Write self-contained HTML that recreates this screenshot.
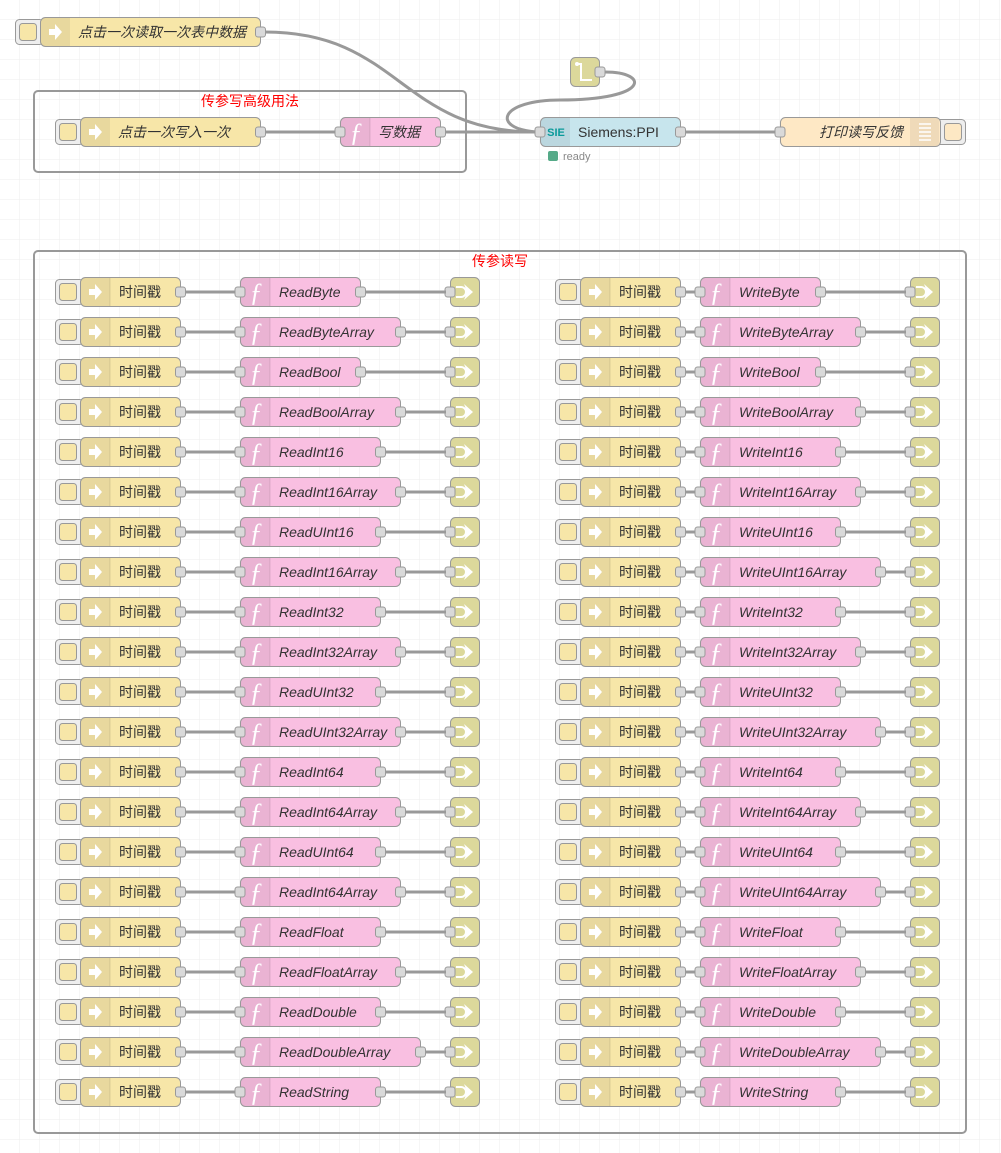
<!DOCTYPE html>
<html><head><meta charset="utf-8"><style>
html,body{margin:0;padding:0;background:#fff}
svg{display:block}
text{font-family:"Liberation Sans","Noto Sans CJK SC",sans-serif;font-size:14px;fill:#333}
.i{font-style:italic}
.c{text-anchor:middle}
.w{stroke:#999;stroke-width:3;fill:none}
.p{fill:#d9d9d9;stroke:#999;stroke-width:1}
.fb{fill:#f9bfe1;stroke:#999;stroke-width:1}
</style></head><body>
<svg width="1001" height="1153" viewBox="0 0 1001 1153" xmlns="http://www.w3.org/2000/svg">
<defs>
<pattern id="grid" width="20" height="20" patternUnits="userSpaceOnUse">
<path d="M20 0V20M0 20H20" stroke="#eee" stroke-width="1" fill="none"/>
</pattern>
<g id="arr"><path d="M-6,-3 H0 V-8 L7,0 L0,8 V3 H-6 Z" fill="#fff"/></g>
<g id="inj">
<rect x="55.5" y="2.5" width="28" height="25" rx="4" fill="#eee" stroke="#999"/>
<rect x="59.5" y="6.5" width="17" height="17" rx="3" fill="#f7e6a8" stroke="#999"/>
<rect x="80.5" y="0.5" width="100" height="29" rx="5" fill="#f7e6a8" stroke="#999"/>
<path d="M110,1 H85 a4,4 0 0 0 -4,4 V25 a4,4 0 0 0 4,4 H110 Z" fill="rgba(0,0,0,0.06)"/>
<line x1="110" y1="1" x2="110" y2="29" stroke="rgba(0,0,0,0.1)"/>
<use href="#arr" x="95" y="15"/>
<rect x="175.5" y="10" width="10" height="10" rx="2.5" class="p"/>
<text x="140" y="20" class="c">时间戳</text>
</g>
<g id="lnk">
<rect x="450.5" y="0.5" width="29" height="29" rx="5" fill="#dcd89b" stroke="#999"/>
<path d="M456,10 H461 a5,5 0 0 1 0,10 H456" stroke="#fff" stroke-width="2" fill="none"/>
<path d="M464,7 L473,15 L464,23 L467,15 Z" fill="#fff"/>
<rect x="445" y="10" width="10" height="10" rx="2.5" class="p"/>
</g>
<g id="fic">
<path d="M270,1 H245 a4,4 0 0 0 -4,4 V25 a4,4 0 0 0 4,4 H270 Z" fill="rgba(0,0,0,0.06)"/>
<line x1="270" y1="1" x2="270" y2="29" stroke="rgba(0,0,0,0.1)"/>
<text x="256" y="24" class="c" style="fill:#fff;font-size:26px;font-style:italic;font-family:'Liberation Serif',serif">ƒ</text>
<rect x="235" y="10" width="10" height="10" rx="2.5" class="p"/>
</g>
<g id="base">
<line x1="185" y1="15" x2="236" y2="15" class="w"/>
<line x1="685" y1="15" x2="696" y2="15" class="w"/>
<use href="#inj"/><use href="#inj" x="500"/>
<use href="#lnk"/><use href="#lnk" x="460"/>
</g>
</defs>
<rect width="1001" height="1153" fill="url(#grid)"/>

<rect x="34" y="91" width="432" height="81" rx="4" fill="none" stroke="#999" stroke-width="2"/>
<text x="250" y="106" class="c" style="fill:#f00">传参写高级用法</text>
<rect x="34" y="251" width="932" height="882" rx="4" fill="none" stroke="#999" stroke-width="2"/>
<text x="500" y="266" class="c" style="fill:#f00">传参读写</text>

<path d="M265,32 C400,32 400,132 536,132" class="w"/>
<line x1="265" y1="132" x2="336" y2="132" class="w"/>
<path d="M445,132 C490,132 490,132 536,132" class="w"/>
<path d="M605,72 C650,72 650,100 560,100 C500,100 490,128 536,132" class="w"/>
<line x1="685" y1="132" x2="776" y2="132" class="w"/>

<rect x="15.5" y="19.5" width="28" height="25" rx="4" fill="#eee" stroke="#999"/>
<rect x="19.5" y="23.5" width="17" height="17" rx="3" fill="#f7e6a8" stroke="#999"/>
<rect x="40.5" y="17.5" width="220" height="29" rx="5" fill="#f7e6a8" stroke="#999"/>
<path d="M70,18 H45 a4,4 0 0 0 -4,4 V42 a4,4 0 0 0 4,4 H70 Z" fill="rgba(0,0,0,0.06)"/>
<use href="#arr" x="55" y="32"/>
<rect x="255.5" y="27" width="10" height="10" rx="2.5" class="p"/>
<text x="78" y="37" class="i">点击一次读取一次表中数据</text>

<rect x="55.5" y="119.5" width="28" height="25" rx="4" fill="#eee" stroke="#999"/>
<rect x="59.5" y="123.5" width="17" height="17" rx="3" fill="#f7e6a8" stroke="#999"/>
<rect x="80.5" y="117.5" width="180" height="29" rx="5" fill="#f7e6a8" stroke="#999"/>
<path d="M110,118 H85 a4,4 0 0 0 -4,4 V142 a4,4 0 0 0 4,4 H110 Z" fill="rgba(0,0,0,0.06)"/>
<use href="#arr" x="95" y="132"/>
<rect x="255.5" y="127" width="10" height="10" rx="2.5" class="p"/>
<text x="118" y="137" class="i">点击一次写入一次</text>

<rect x="340.5" y="117.5" width="100" height="29" rx="5" class="fb"/>
<g transform="translate(100,117)"><use href="#fic"/></g>
<rect x="435.5" y="127" width="10" height="10" rx="2.5" class="p"/>
<text x="378" y="137" class="i">写数据</text>

<rect x="570.5" y="57.5" width="29" height="29" rx="5" fill="#dcd89b" stroke="#999"/>
<path d="M577,64 H581 V80 H592" stroke="#fff" stroke-width="2" fill="none"/>
<circle cx="577" cy="64" r="2" fill="#fff"/>
<rect x="595" y="67" width="10" height="10" rx="2.5" class="p"/>

<rect x="540.5" y="117.5" width="140" height="29" rx="5" fill="#c7e5ed" stroke="#999"/>
<path d="M570,118 H545 a4,4 0 0 0 -4,4 V142 a4,4 0 0 0 4,4 H570 Z" fill="rgba(0,0,0,0.06)"/>
<text x="556" y="136" class="c" style="fill:#0a9a9a;font-weight:bold;font-size:11px">SIE</text>
<rect x="535" y="127" width="10" height="10" rx="2.5" class="p"/>
<rect x="675.5" y="127" width="10" height="10" rx="2.5" class="p"/>
<text x="578" y="137">Siemens:PPI</text>
<rect x="548" y="151" width="10" height="10" rx="2" fill="#5a8"/>
<text x="563" y="160" style="font-size:11px;fill:#888">ready</text>

<rect x="935.5" y="119.5" width="30" height="25" rx="4" fill="#eee" stroke="#999"/>
<rect x="944.5" y="123.5" width="17" height="17" rx="3" fill="#fde8c4" stroke="#999"/>
<rect x="780.5" y="117.5" width="160" height="29" rx="5" fill="#fee8c5" stroke="#999"/>
<path d="M910,118 H935 a4,4 0 0 1 4,4 V142 a4,4 0 0 1 -4,4 H910 Z" fill="rgba(0,0,0,0.06)"/>
<path d="M919,124H931M919,128H931M919,132H931M919,136H931M919,140H931" stroke="#fff" stroke-width="1.5"/>
<rect x="775" y="127" width="10" height="10" rx="2.5" class="p"/>
<text x="903" y="137" class="i" style="text-anchor:end">打印读写反馈</text>

<g transform="translate(0,277)"><use href="#base"/><rect x="240.5" y="0.5" width="120" height="29" rx="5" class="fb"/><line x1="365" y1="15" x2="446" y2="15" class="w"/><rect x="355.5" y="10" width="10" height="10" rx="2.5" class="p"/><text x="279" y="20" class="i">ReadByte</text><rect x="700.5" y="0.5" width="120" height="29" rx="5" class="fb"/><line x1="825" y1="15" x2="906" y2="15" class="w"/><rect x="815.5" y="10" width="10" height="10" rx="2.5" class="p"/><text x="739" y="20" class="i">WriteByte</text><use href="#fic"/><use href="#fic" x="460"/></g>
<g transform="translate(0,317)"><use href="#base"/><rect x="240.5" y="0.5" width="160" height="29" rx="5" class="fb"/><line x1="405" y1="15" x2="446" y2="15" class="w"/><rect x="395.5" y="10" width="10" height="10" rx="2.5" class="p"/><text x="279" y="20" class="i">ReadByteArray</text><rect x="700.5" y="0.5" width="160" height="29" rx="5" class="fb"/><line x1="865" y1="15" x2="906" y2="15" class="w"/><rect x="855.5" y="10" width="10" height="10" rx="2.5" class="p"/><text x="739" y="20" class="i">WriteByteArray</text><use href="#fic"/><use href="#fic" x="460"/></g>
<g transform="translate(0,357)"><use href="#base"/><rect x="240.5" y="0.5" width="120" height="29" rx="5" class="fb"/><line x1="365" y1="15" x2="446" y2="15" class="w"/><rect x="355.5" y="10" width="10" height="10" rx="2.5" class="p"/><text x="279" y="20" class="i">ReadBool</text><rect x="700.5" y="0.5" width="120" height="29" rx="5" class="fb"/><line x1="825" y1="15" x2="906" y2="15" class="w"/><rect x="815.5" y="10" width="10" height="10" rx="2.5" class="p"/><text x="739" y="20" class="i">WriteBool</text><use href="#fic"/><use href="#fic" x="460"/></g>
<g transform="translate(0,397)"><use href="#base"/><rect x="240.5" y="0.5" width="160" height="29" rx="5" class="fb"/><line x1="405" y1="15" x2="446" y2="15" class="w"/><rect x="395.5" y="10" width="10" height="10" rx="2.5" class="p"/><text x="279" y="20" class="i">ReadBoolArray</text><rect x="700.5" y="0.5" width="160" height="29" rx="5" class="fb"/><line x1="865" y1="15" x2="906" y2="15" class="w"/><rect x="855.5" y="10" width="10" height="10" rx="2.5" class="p"/><text x="739" y="20" class="i">WriteBoolArray</text><use href="#fic"/><use href="#fic" x="460"/></g>
<g transform="translate(0,437)"><use href="#base"/><rect x="240.5" y="0.5" width="140" height="29" rx="5" class="fb"/><line x1="385" y1="15" x2="446" y2="15" class="w"/><rect x="375.5" y="10" width="10" height="10" rx="2.5" class="p"/><text x="279" y="20" class="i">ReadInt16</text><rect x="700.5" y="0.5" width="140" height="29" rx="5" class="fb"/><line x1="845" y1="15" x2="906" y2="15" class="w"/><rect x="835.5" y="10" width="10" height="10" rx="2.5" class="p"/><text x="739" y="20" class="i">WriteInt16</text><use href="#fic"/><use href="#fic" x="460"/></g>
<g transform="translate(0,477)"><use href="#base"/><rect x="240.5" y="0.5" width="160" height="29" rx="5" class="fb"/><line x1="405" y1="15" x2="446" y2="15" class="w"/><rect x="395.5" y="10" width="10" height="10" rx="2.5" class="p"/><text x="279" y="20" class="i">ReadInt16Array</text><rect x="700.5" y="0.5" width="160" height="29" rx="5" class="fb"/><line x1="865" y1="15" x2="906" y2="15" class="w"/><rect x="855.5" y="10" width="10" height="10" rx="2.5" class="p"/><text x="739" y="20" class="i">WriteInt16Array</text><use href="#fic"/><use href="#fic" x="460"/></g>
<g transform="translate(0,517)"><use href="#base"/><rect x="240.5" y="0.5" width="140" height="29" rx="5" class="fb"/><line x1="385" y1="15" x2="446" y2="15" class="w"/><rect x="375.5" y="10" width="10" height="10" rx="2.5" class="p"/><text x="279" y="20" class="i">ReadUInt16</text><rect x="700.5" y="0.5" width="140" height="29" rx="5" class="fb"/><line x1="845" y1="15" x2="906" y2="15" class="w"/><rect x="835.5" y="10" width="10" height="10" rx="2.5" class="p"/><text x="739" y="20" class="i">WriteUInt16</text><use href="#fic"/><use href="#fic" x="460"/></g>
<g transform="translate(0,557)"><use href="#base"/><rect x="240.5" y="0.5" width="160" height="29" rx="5" class="fb"/><line x1="405" y1="15" x2="446" y2="15" class="w"/><rect x="395.5" y="10" width="10" height="10" rx="2.5" class="p"/><text x="279" y="20" class="i">ReadInt16Array</text><rect x="700.5" y="0.5" width="180" height="29" rx="5" class="fb"/><line x1="885" y1="15" x2="906" y2="15" class="w"/><rect x="875.5" y="10" width="10" height="10" rx="2.5" class="p"/><text x="739" y="20" class="i">WriteUInt16Array</text><use href="#fic"/><use href="#fic" x="460"/></g>
<g transform="translate(0,597)"><use href="#base"/><rect x="240.5" y="0.5" width="140" height="29" rx="5" class="fb"/><line x1="385" y1="15" x2="446" y2="15" class="w"/><rect x="375.5" y="10" width="10" height="10" rx="2.5" class="p"/><text x="279" y="20" class="i">ReadInt32</text><rect x="700.5" y="0.5" width="140" height="29" rx="5" class="fb"/><line x1="845" y1="15" x2="906" y2="15" class="w"/><rect x="835.5" y="10" width="10" height="10" rx="2.5" class="p"/><text x="739" y="20" class="i">WriteInt32</text><use href="#fic"/><use href="#fic" x="460"/></g>
<g transform="translate(0,637)"><use href="#base"/><rect x="240.5" y="0.5" width="160" height="29" rx="5" class="fb"/><line x1="405" y1="15" x2="446" y2="15" class="w"/><rect x="395.5" y="10" width="10" height="10" rx="2.5" class="p"/><text x="279" y="20" class="i">ReadInt32Array</text><rect x="700.5" y="0.5" width="160" height="29" rx="5" class="fb"/><line x1="865" y1="15" x2="906" y2="15" class="w"/><rect x="855.5" y="10" width="10" height="10" rx="2.5" class="p"/><text x="739" y="20" class="i">WriteInt32Array</text><use href="#fic"/><use href="#fic" x="460"/></g>
<g transform="translate(0,677)"><use href="#base"/><rect x="240.5" y="0.5" width="140" height="29" rx="5" class="fb"/><line x1="385" y1="15" x2="446" y2="15" class="w"/><rect x="375.5" y="10" width="10" height="10" rx="2.5" class="p"/><text x="279" y="20" class="i">ReadUInt32</text><rect x="700.5" y="0.5" width="140" height="29" rx="5" class="fb"/><line x1="845" y1="15" x2="906" y2="15" class="w"/><rect x="835.5" y="10" width="10" height="10" rx="2.5" class="p"/><text x="739" y="20" class="i">WriteUInt32</text><use href="#fic"/><use href="#fic" x="460"/></g>
<g transform="translate(0,717)"><use href="#base"/><rect x="240.5" y="0.5" width="160" height="29" rx="5" class="fb"/><line x1="405" y1="15" x2="446" y2="15" class="w"/><rect x="395.5" y="10" width="10" height="10" rx="2.5" class="p"/><text x="279" y="20" class="i">ReadUInt32Array</text><rect x="700.5" y="0.5" width="180" height="29" rx="5" class="fb"/><line x1="885" y1="15" x2="906" y2="15" class="w"/><rect x="875.5" y="10" width="10" height="10" rx="2.5" class="p"/><text x="739" y="20" class="i">WriteUInt32Array</text><use href="#fic"/><use href="#fic" x="460"/></g>
<g transform="translate(0,757)"><use href="#base"/><rect x="240.5" y="0.5" width="140" height="29" rx="5" class="fb"/><line x1="385" y1="15" x2="446" y2="15" class="w"/><rect x="375.5" y="10" width="10" height="10" rx="2.5" class="p"/><text x="279" y="20" class="i">ReadInt64</text><rect x="700.5" y="0.5" width="140" height="29" rx="5" class="fb"/><line x1="845" y1="15" x2="906" y2="15" class="w"/><rect x="835.5" y="10" width="10" height="10" rx="2.5" class="p"/><text x="739" y="20" class="i">WriteInt64</text><use href="#fic"/><use href="#fic" x="460"/></g>
<g transform="translate(0,797)"><use href="#base"/><rect x="240.5" y="0.5" width="160" height="29" rx="5" class="fb"/><line x1="405" y1="15" x2="446" y2="15" class="w"/><rect x="395.5" y="10" width="10" height="10" rx="2.5" class="p"/><text x="279" y="20" class="i">ReadInt64Array</text><rect x="700.5" y="0.5" width="160" height="29" rx="5" class="fb"/><line x1="865" y1="15" x2="906" y2="15" class="w"/><rect x="855.5" y="10" width="10" height="10" rx="2.5" class="p"/><text x="739" y="20" class="i">WriteInt64Array</text><use href="#fic"/><use href="#fic" x="460"/></g>
<g transform="translate(0,837)"><use href="#base"/><rect x="240.5" y="0.5" width="140" height="29" rx="5" class="fb"/><line x1="385" y1="15" x2="446" y2="15" class="w"/><rect x="375.5" y="10" width="10" height="10" rx="2.5" class="p"/><text x="279" y="20" class="i">ReadUInt64</text><rect x="700.5" y="0.5" width="140" height="29" rx="5" class="fb"/><line x1="845" y1="15" x2="906" y2="15" class="w"/><rect x="835.5" y="10" width="10" height="10" rx="2.5" class="p"/><text x="739" y="20" class="i">WriteUInt64</text><use href="#fic"/><use href="#fic" x="460"/></g>
<g transform="translate(0,877)"><use href="#base"/><rect x="240.5" y="0.5" width="160" height="29" rx="5" class="fb"/><line x1="405" y1="15" x2="446" y2="15" class="w"/><rect x="395.5" y="10" width="10" height="10" rx="2.5" class="p"/><text x="279" y="20" class="i">ReadInt64Array</text><rect x="700.5" y="0.5" width="180" height="29" rx="5" class="fb"/><line x1="885" y1="15" x2="906" y2="15" class="w"/><rect x="875.5" y="10" width="10" height="10" rx="2.5" class="p"/><text x="739" y="20" class="i">WriteUInt64Array</text><use href="#fic"/><use href="#fic" x="460"/></g>
<g transform="translate(0,917)"><use href="#base"/><rect x="240.5" y="0.5" width="140" height="29" rx="5" class="fb"/><line x1="385" y1="15" x2="446" y2="15" class="w"/><rect x="375.5" y="10" width="10" height="10" rx="2.5" class="p"/><text x="279" y="20" class="i">ReadFloat</text><rect x="700.5" y="0.5" width="140" height="29" rx="5" class="fb"/><line x1="845" y1="15" x2="906" y2="15" class="w"/><rect x="835.5" y="10" width="10" height="10" rx="2.5" class="p"/><text x="739" y="20" class="i">WriteFloat</text><use href="#fic"/><use href="#fic" x="460"/></g>
<g transform="translate(0,957)"><use href="#base"/><rect x="240.5" y="0.5" width="160" height="29" rx="5" class="fb"/><line x1="405" y1="15" x2="446" y2="15" class="w"/><rect x="395.5" y="10" width="10" height="10" rx="2.5" class="p"/><text x="279" y="20" class="i">ReadFloatArray</text><rect x="700.5" y="0.5" width="160" height="29" rx="5" class="fb"/><line x1="865" y1="15" x2="906" y2="15" class="w"/><rect x="855.5" y="10" width="10" height="10" rx="2.5" class="p"/><text x="739" y="20" class="i">WriteFloatArray</text><use href="#fic"/><use href="#fic" x="460"/></g>
<g transform="translate(0,997)"><use href="#base"/><rect x="240.5" y="0.5" width="140" height="29" rx="5" class="fb"/><line x1="385" y1="15" x2="446" y2="15" class="w"/><rect x="375.5" y="10" width="10" height="10" rx="2.5" class="p"/><text x="279" y="20" class="i">ReadDouble</text><rect x="700.5" y="0.5" width="140" height="29" rx="5" class="fb"/><line x1="845" y1="15" x2="906" y2="15" class="w"/><rect x="835.5" y="10" width="10" height="10" rx="2.5" class="p"/><text x="739" y="20" class="i">WriteDouble</text><use href="#fic"/><use href="#fic" x="460"/></g>
<g transform="translate(0,1037)"><use href="#base"/><rect x="240.5" y="0.5" width="180" height="29" rx="5" class="fb"/><line x1="425" y1="15" x2="446" y2="15" class="w"/><rect x="415.5" y="10" width="10" height="10" rx="2.5" class="p"/><text x="279" y="20" class="i">ReadDoubleArray</text><rect x="700.5" y="0.5" width="180" height="29" rx="5" class="fb"/><line x1="885" y1="15" x2="906" y2="15" class="w"/><rect x="875.5" y="10" width="10" height="10" rx="2.5" class="p"/><text x="739" y="20" class="i">WriteDoubleArray</text><use href="#fic"/><use href="#fic" x="460"/></g>
<g transform="translate(0,1077)"><use href="#base"/><rect x="240.5" y="0.5" width="140" height="29" rx="5" class="fb"/><line x1="385" y1="15" x2="446" y2="15" class="w"/><rect x="375.5" y="10" width="10" height="10" rx="2.5" class="p"/><text x="279" y="20" class="i">ReadString</text><rect x="700.5" y="0.5" width="140" height="29" rx="5" class="fb"/><line x1="845" y1="15" x2="906" y2="15" class="w"/><rect x="835.5" y="10" width="10" height="10" rx="2.5" class="p"/><text x="739" y="20" class="i">WriteString</text><use href="#fic"/><use href="#fic" x="460"/></g>
</svg>
</body></html>
